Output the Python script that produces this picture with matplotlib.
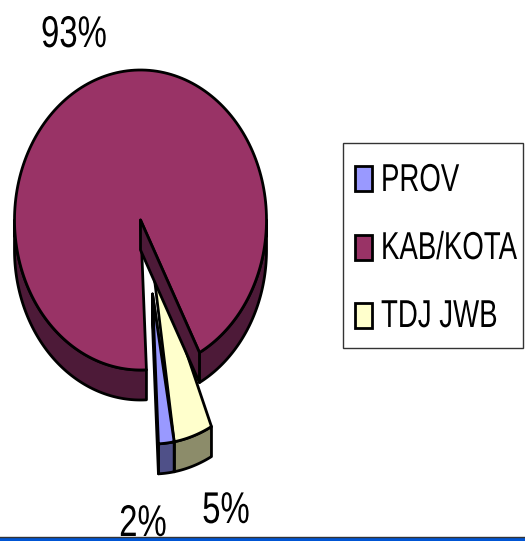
import matplotlib
matplotlib.use('Agg')
import matplotlib.pyplot as plt
from matplotlib.patches import Polygon, Rectangle
from matplotlib.patheffects import AbstractPathEffect
from matplotlib.transforms import Affine2D
import numpy as np

# slices
labels = ['PROV', 'KAB/KOTA', 'TDJ JWB']
values = [2, 93, 5]
top_colors = ['#9999ff', '#993366', '#ffffcc']
side_colors = ['#4f5088', '#4d1a38', '#8c8c6a']
pct_pos = [(143, 536), (74, 47), (226, 523)]
exploded = [True, False, True]
# the tip of the yellow slice runs up under the big slice's wall in the original
tip_shift = [(0, 0), (0, 0), (-2, -48)]

plt.rcParams['font.family'] = ['Liberation Sans', 'DejaVu Sans']

cx, cy = 140.5, 220
rx, ry = 126, 150
depth = 30
off = (12, 74)
start = -80.1  # where the first slice begins, goes clockwise

fig = plt.figure(figsize=(5.25, 5.41), dpi=100)
ax = fig.add_axes([0, 0, 1, 1])
ax.set_xlim(0, 525)
ax.set_ylim(541, 0)
ax.axis('off')

# the original text is squeezed sideways, matplotlib fonts can't do that by themselves
class Squeeze(AbstractPathEffect):
    def __init__(self, x, sx):
        super().__init__()
        self.x = x
        self.sx = sx

    def draw_path(self, renderer, gc, tpath, affine, rgbFace=None):
        t = affine + Affine2D().translate(-self.x, 0).scale(self.sx, 1).translate(self.x, 0)
        renderer.draw_path(gc, tpath, t, rgbFace)

def arc(x0, y0, a1, a2):
    t = np.radians(np.linspace(a1, a2, 200))
    return np.column_stack([x0 + rx * np.cos(t), y0 - ry * np.sin(t)])

def draw_slice(i, a1, a2):
    x0, y0 = cx, cy
    if exploded[i]:
        x0, y0 = cx + off[0], cy + off[1]
    tx, ty = x0 + tip_shift[i][0], y0 + tip_shift[i][1]
    kw = dict(ec='black', lw=2, joinstyle='round')
    # outer wall, only the part on the lower half of the ellipse faces us
    for k in [0, -1]:
        lo = max(a2, -180 + 360 * k)
        hi = min(a1, 360 * k)
        if hi > lo:
            p = arc(x0, y0, hi, lo)
            ax.add_patch(Polygon(np.vstack([p, (p + [0, depth])[::-1]]), fc=side_colors[i], **kw))
    # cut wall on the clockwise end, the other one is hidden
    p = arc(x0, y0, a2, a2)[0]
    wall = [(x0, y0), p, p + [0, depth], (x0, y0 + depth)]
    # big slice has its wall over the top face, small ones under it
    if exploded[i]:
        ax.add_patch(Polygon(wall, fc=side_colors[i], **kw))
    # top face
    p = arc(x0, y0, a1, a2)
    ax.add_patch(Polygon(np.vstack([[(tx, ty)], p]), fc=top_colors[i], **kw))
    if not exploded[i]:
        ax.add_patch(Polygon(wall, fc=side_colors[i], **kw))

angles = []
a = start
for v in values:
    angles.append((a, a - v / sum(values) * 360))
    a = a - v / sum(values) * 360

# exploded ones first, the big slice sits over them
draw_slice(2, *angles[2])
draw_slice(0, *angles[0])
draw_slice(1, *angles[1])

for v, pos in zip(values, pct_pos):
    ax.text(pos[0], pos[1], '%d%%' % v, fontsize=32, ha='center', va='baseline',
            path_effects=[Squeeze(pos[0], 0.74)])

# legend by hand, a real legend would size itself from the unsqueezed text
ax.add_patch(Rectangle((342.5, 143), 180.5, 205, fc='white', ec='#333333', lw=1))
swatch_y = [166, 235, 303]
text_y = [191, 259, 327]
renderer = fig.canvas.get_renderer()
for lab, c, sy, ty in zip(labels, top_colors, swatch_y, text_y):
    ax.add_patch(Rectangle((354.5, sy), 17, 25, fc=c, ec='black', lw=2))
    t = ax.text(381, ty, lab, fontsize=28, ha='left', va='baseline')
    right = 381 + t.get_window_extent(renderer).width * 0.71
    t.set_x(right)
    t.set_ha('right')
    t.set_path_effects([Squeeze(right, 0.71)])

# slide edge at the bottom
ax.add_patch(Rectangle((0, 537), 525, 4, fc='#0055d4', ec='none', zorder=5))
ax.plot([0, 525], [537, 537], color='#333333', lw=1, zorder=6)

fig.savefig('out.png', dpi=100)
